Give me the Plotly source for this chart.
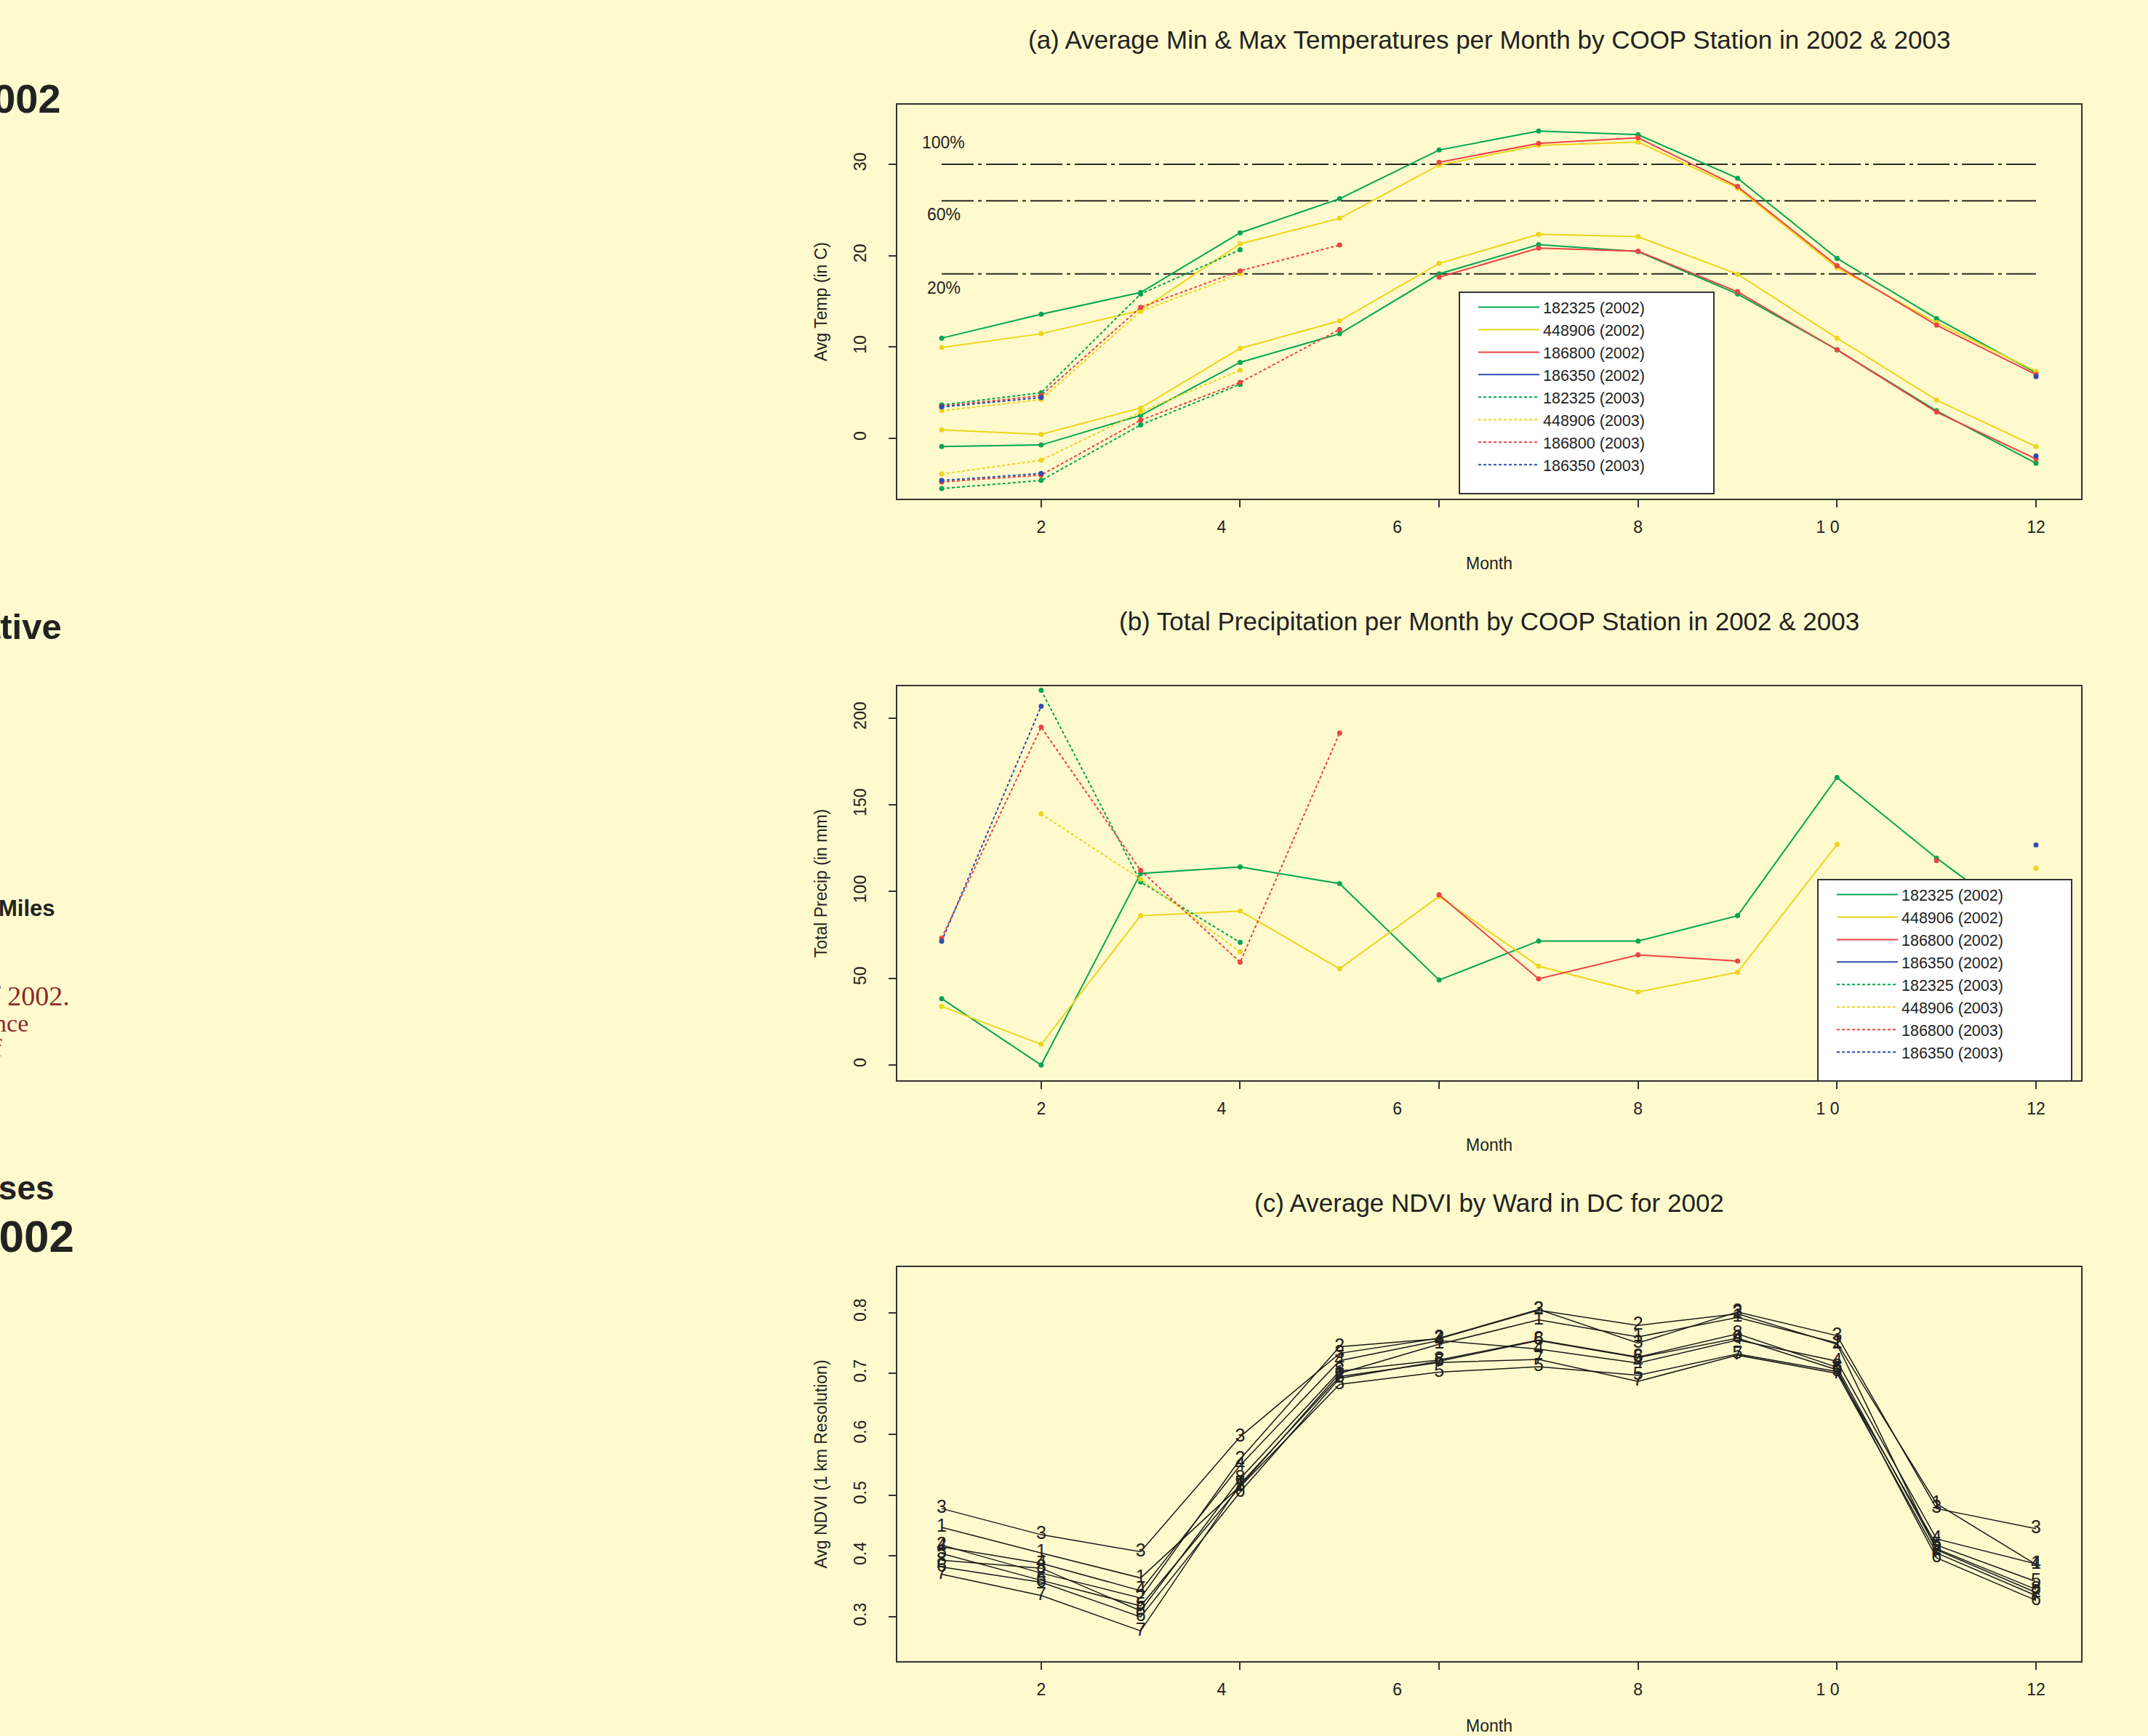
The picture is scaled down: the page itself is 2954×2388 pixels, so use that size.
import plotly.graph_objects as go

# ---------------------------------------------------------------- data
N = None
months = [1, 2, 3, 4, 5, 6, 7, 8, 9, 10, 11, 12]
month_ticks = [2, 4, 6, 8, 10, 12]
month_tick_labels = ["2", "4" + "\u00a0" * 8, "6" + "\u00a0" * 18, "8", "1 0" + "\u00a0" * 4, "12"]

stations = ["182325", "448906", "186800", "186350"]
years = ["2002", "2003"]

# (a) average max / min temperature (deg C)
tmax_182325_2002 = [10.97, 13.59, 15.97, 22.50, 26.23, 31.56, 33.63, 33.24, 28.47, 19.70, 13.12, 7.18]
tmin_182325_2002 = [-0.89, -0.72, 2.52, 8.32, 11.45, 18.00, 21.21, 20.45, 15.80, 9.70, 3.02, -2.73]
tmax_448906_2002 = [9.94, 11.45, 14.00, 21.29, 24.08, 29.92, 32.06, 32.43, 27.40, 18.67, 12.67, 7.35]
tmin_448906_2002 = [0.93, 0.45, 3.33, 9.85, 12.87, 19.15, 22.33, 22.08, 17.97, 10.97, 4.19, -0.89]
tmax_186800_2002 = [N, N, N, N, N, 30.22, 32.29, 32.90, 27.57, 18.90, 12.39, 6.98]
tmin_186800_2002 = [N, N, N, N, N, 17.64, 20.82, 20.49, 16.05, 9.69, 2.88, -2.25]
tmax_186350_2002 = [N, N, N, N, N, N, N, N, N, N, N, 6.76]
tmin_186350_2002 = [N, N, N, N, N, N, N, N, N, N, N, -1.92]
tmax_182325_2003 = [3.66, 5.00, 15.80, 20.65, N, N, N, N, N, N, N, N]
tmin_182325_2003 = [-5.49, -4.60, 1.48, 5.92, N, N, N, N, N, N, N, N]
tmax_448906_2003 = [3.02, 4.25, 13.90, 18.00, N, N, N, N, N, N, N, N]
tmin_448906_2003 = [-3.90, -2.39, 2.90, 7.46, N, N, N, N, N, N, N, N]
tmax_186800_2003 = [3.50, 4.69, 14.35, 18.34, 21.16, N, N, N, N, N, N, N]
tmin_186800_2003 = [-4.77, -4.01, 1.99, 6.12, 11.92, N, N, N, N, N, N, N]
tmax_186350_2003 = [3.44, 4.47, N, N, N, N, N, N, N, N, N, N]
tmin_186350_2003 = [-4.60, -3.84, N, N, N, N, N, N, N, N, N, N]

ref_levels = [30, 26, 18]
ref_labels = ["100%", "60%", "20%"]

# (b) total precipitation (mm)
prcp_182325_2002 = [38.3, 0.0, 110.5, 114.2, 104.6, 49.0, 71.5, 71.5, 86.1, 165.8, 119.3, 77.0]
prcp_448906_2002 = [33.8, 11.9, 86.1, 88.8, 55.5, 97.2, 57.0, 42.1, 53.5, 127.2, N, 113.5]
prcp_186800_2002 = [N, N, N, N, N, 98.2, 49.7, 63.5, 59.9, N, 117.9, N]
prcp_186350_2002 = [N, N, N, N, N, N, N, N, N, N, N, 126.9]
prcp_182325_2003 = [N, 216.1, 105.5, 70.7, N, N, N, N, N, N, N, N]
prcp_448906_2003 = [N, 144.8, 107.2, 65.3, N, N, N, N, N, N, N, N]
prcp_186800_2003 = [73.2, 194.8, 112.2, 59.3, 191.5, N, N, N, N, N, N, N]
prcp_186350_2003 = [71.4, 206.9, N, N, N, N, N, N, N, N, N, N]

# (c) average NDVI by ward
ward_labels = ["1", "2", "3", "4", "5", "6", "7", "8"]
ndvi_ward1 = [0.447, 0.405, 0.364, 0.515, 0.700, 0.748, 0.788, 0.760, 0.792, 0.750, 0.486, 0.386]
ndvi_ward2 = [0.418, 0.372, 0.331, 0.559, 0.744, 0.757, 0.804, 0.779, 0.798, 0.748, 0.410, 0.340]
ndvi_ward3 = [0.478, 0.435, 0.407, 0.596, 0.733, 0.758, 0.805, 0.750, 0.801, 0.762, 0.478, 0.445]
ndvi_ward4 = [0.415, 0.388, 0.343, 0.549, 0.721, 0.754, 0.740, 0.717, 0.755, 0.720, 0.428, 0.387]
ndvi_ward5 = [0.404, 0.360, 0.318, 0.514, 0.682, 0.702, 0.711, 0.697, 0.732, 0.703, 0.418, 0.358]
ndvi_ward6 = [0.382, 0.357, 0.300, 0.505, 0.692, 0.720, 0.754, 0.726, 0.758, 0.706, 0.397, 0.327]
ndvi_ward7 = [0.370, 0.335, 0.277, 0.518, 0.695, 0.718, 0.723, 0.687, 0.730, 0.700, 0.405, 0.335]
ndvi_ward8 = [0.393, 0.380, 0.310, 0.527, 0.704, 0.722, 0.755, 0.727, 0.765, 0.710, 0.412, 0.345]

# ---------------------------------------------------------------- style
W, H = 2954, 2388
FONT = "Liberation Sans, Arial, Helvetica, sans-serif"
BOLD = "Liberation Sans Narrow, Liberation Sans, Arial, sans-serif"
SERIF = "Liberation Serif, Times New Roman, serif"
BG = "#FFFACD"
INK = "#222222"
station_colors = {"182325": "#00A651", "448906": "#EDD51A", "186800": "#EE4242", "186350": "#2E4DB2"}
year_dash = {"2002": "solid", "2003": "4px,3px"}


def fx(p):
    return p / W


def fy(p):
    return 1 - p / H


X_DOM = [fx(1234), fx(2862)]
DOM = {"a": [fy(686), fy(144)], "b": [fy(1486), fy(944)], "c": [fy(2285), fy(1743)]}
x_range = [0.554, 12.453]

tmax = {("182325", "2002"): tmax_182325_2002, ("448906", "2002"): tmax_448906_2002,
        ("186800", "2002"): tmax_186800_2002, ("186350", "2002"): tmax_186350_2002,
        ("182325", "2003"): tmax_182325_2003, ("448906", "2003"): tmax_448906_2003,
        ("186800", "2003"): tmax_186800_2003, ("186350", "2003"): tmax_186350_2003}
tmin = {("182325", "2002"): tmin_182325_2002, ("448906", "2002"): tmin_448906_2002,
        ("186800", "2002"): tmin_186800_2002, ("186350", "2002"): tmin_186350_2002,
        ("182325", "2003"): tmin_182325_2003, ("448906", "2003"): tmin_448906_2003,
        ("186800", "2003"): tmin_186800_2003, ("186350", "2003"): tmin_186350_2003}
prcp = {("182325", "2002"): prcp_182325_2002, ("448906", "2002"): prcp_448906_2002,
        ("186800", "2002"): prcp_186800_2002, ("186350", "2002"): prcp_186350_2002,
        ("182325", "2003"): prcp_182325_2003, ("448906", "2003"): prcp_448906_2003,
        ("186800", "2003"): prcp_186800_2003, ("186350", "2003"): prcp_186350_2003}
ndvi = [ndvi_ward1, ndvi_ward2, ndvi_ward3, ndvi_ward4,
        ndvi_ward5, ndvi_ward6, ndvi_ward7, ndvi_ward8]

fig = go.Figure()

# ---------------------------------------------------------------- panel (a)
for lvl in ref_levels:
    fig.add_trace(go.Scatter(x=[months[0], months[-1]], y=[lvl, lvl], mode="lines",
                             line=dict(color="#2a2a2a", width=2, dash="44px,6px,5px,6px"),
                             showlegend=False, hoverinfo="skip", xaxis="x", yaxis="y"))

for yr in years:
    for st in stations:
        key = (st, yr)
        col = station_colors[st]
        name = f"{st} ({yr})"
        fig.add_trace(go.Scatter(x=months, y=tmax[key], mode="lines", name=name,
                                 line=dict(color=col, width=2, dash=year_dash[yr]),
                                 legend="legend", xaxis="x", yaxis="y"))
        fig.add_trace(go.Scatter(x=months, y=tmin[key], mode="lines", showlegend=False,
                                 line=dict(color=col, width=2, dash=year_dash[yr]),
                                 xaxis="x", yaxis="y"))
        fig.add_trace(go.Scatter(x=months + months, y=tmax[key] + tmin[key], mode="markers",
                                 showlegend=False, marker=dict(color=col, size=7),
                                 xaxis="x", yaxis="y"))

# ---------------------------------------------------------------- panel (b)
for yr in years:
    for st in stations:
        key = (st, yr)
        col = station_colors[st]
        name = f"{st} ({yr})"
        fig.add_trace(go.Scatter(x=months, y=prcp[key], mode="lines", name=name,
                                 line=dict(color=col, width=2, dash=year_dash[yr]),
                                 legend="legend2", xaxis="x2", yaxis="y2"))
        fig.add_trace(go.Scatter(x=months, y=prcp[key], mode="markers", showlegend=False,
                                 marker=dict(color=col, size=7), xaxis="x2", yaxis="y2"))

# ---------------------------------------------------------------- panel (c)
for lab, vals in zip(ward_labels, ndvi):
    fig.add_trace(go.Scatter(x=months, y=vals, mode="lines+text", text=[lab] * len(months),
                             textposition="middle center",
                             textfont=dict(family=FONT, size=25, color=INK),
                             line=dict(color="#1a1a1a", width=1.5), showlegend=False,
                             name=f"Ward {lab}", xaxis="x3", yaxis="y3"))

# ---------------------------------------------------------------- axes
tickfont = dict(family=FONT, size=23, color=INK)
titlefont = dict(family=FONT, size=23, color=INK)


def xaxis(anchor):
    return dict(domain=X_DOM, anchor=anchor, range=x_range, tickmode="array",
                tickvals=month_ticks, ticktext=month_tick_labels, ticks="outside",
                ticklen=10, tickwidth=1.5, tickcolor="#333", showline=True, linecolor="#333",
                linewidth=1.5, mirror=True, showgrid=False, zeroline=False, tickfont=tickfont,
                ticklabelstandoff=8, title=dict(text="Month", font=titlefont, standoff=30))


def yaxis(anchor, dom, rng, vals, texts, title):
    return dict(domain=dom, anchor=anchor, range=rng, tickmode="array", tickvals=vals,
                ticktext=texts, tickangle=-90, ticks="outside", ticklen=10, tickwidth=1.5,
                tickcolor="#333", showline=True, linecolor="#333", linewidth=1.5, mirror=True,
                showgrid=False, zeroline=False, tickfont=tickfont, ticklabelstandoff=22,
                title=dict(text=title, font=titlefont, standoff=26))


temp_ticks = [0, 10, 20, 30]
prcp_ticks = [0, 50, 100, 150, 200]
ndvi_ticks = [0.3, 0.4, 0.5, 0.6, 0.7, 0.8]

# legend frames (white boxes, drawn above the data like R's legend())
legend_boxes = [(2007, 402, 2357, 679), (2500, 1210, 2849, 1487)]
shapes = [dict(type="rect", xref="paper", yref="paper", x0=fx(l), x1=fx(r), y0=fy(b), y1=fy(t),
               fillcolor="white", line=dict(color="#333", width=2), layer="above")
          for l, t, r, b in legend_boxes]

legend_common = dict(xanchor="left", yanchor="top", bgcolor="rgba(0,0,0,0)", borderwidth=0,
                     font=dict(family=FONT, size=21.5, color=INK),
                     itemwidth=84, traceorder="normal")

annotations = []
# panel titles
for dom, txt in [(DOM["a"], "(a) Average Min & Max Temperatures per Month by COOP Station in 2002 & 2003"),
                 (DOM["b"], "(b) Total Precipitation per Month by COOP Station in 2002 & 2003"),
                 (DOM["c"], "(c) Average NDVI by Ward in DC for 2002")]:
    annotations.append(dict(text=txt, xref="paper", yref="paper", x=(X_DOM[0] + X_DOM[1]) / 2,
                            y=dom[1] + 89 / H, xanchor="center", yanchor="middle", showarrow=False,
                            font=dict(family=FONT, size=35, color=INK)))
# reference line labels
for lvl, lab in zip(ref_levels, ref_labels):
    annotations.append(dict(text=lab, xref="x", yref="y", x=months[0] + 0.02, y=lvl,
                            yshift=30 if lvl == max(ref_levels) else -19, showarrow=False,
                            xanchor="center", yanchor="middle",
                            font=dict(family=FONT, size=23, color=INK)))

# fragments of neighbouring poster text cut by the left edge
left_texts = [
    ("<b>2002</b>", 86, 136, BOLD, 56, INK),
    ("<b>ative</b>", 87, 862, BOLD, 49, INK),
    ("<b>Miles</b>", 78, 1249, BOLD, 31, INK),
    ("of 2002.", 98, 1370, SERIF, 38, "#8E2A2A"),
    ("ence", 41, 1407, SERIF, 34, "#8E2A2A"),
    ("of", 5, 1441, SERIF, 34, "#8E2A2A"),
    ("<b>Cases</b>", 77, 1634, BOLD, 46, INK),
    ("<b>2002</b>", 104, 1700, BOLD, 62, INK),
]
for txt, right, cy, fam, size, col in left_texts:
    annotations.append(dict(text=txt, xref="paper", yref="paper", x=fx(right), y=fy(cy),
                            xanchor="right", yanchor="middle", showarrow=False,
                            font=dict(family=fam, size=size, color=col)))

fig.update_layout(
    width=W, height=H, autosize=False,
    margin=dict(l=0, r=0, t=0, b=0),
    paper_bgcolor=BG, plot_bgcolor=BG,
    xaxis=xaxis("y"), xaxis2=xaxis("y2"), xaxis3=xaxis("y3"),
    yaxis=yaxis("x", DOM["a"], [-6.6, 36.52], temp_ticks, [str(v) for v in temp_ticks], "Avg Temp (in C)"),
    yaxis2=yaxis("x2", DOM["b"], [-8.8, 218.4], prcp_ticks, [str(v) for v in prcp_ticks], "Total Precip (in mm)"),
    yaxis3=yaxis("x3", DOM["c"], [0.2273, 0.8747], ndvi_ticks, [f"{v:.1f}" for v in ndvi_ticks],
                 "Avg NDVI (1 km Resolution)"),
    legend=dict(x=fx(2028), y=fy(402), **legend_common),
    legend2=dict(x=fx(2521), y=fy(1210), **legend_common),
    shapes=shapes,
    annotations=annotations,
    showlegend=True,
)

fig.write_html("out.html", config={"displayModeBar": False},
               post_script="document.body.style.margin='0';document.body.style.overflow='hidden';")
